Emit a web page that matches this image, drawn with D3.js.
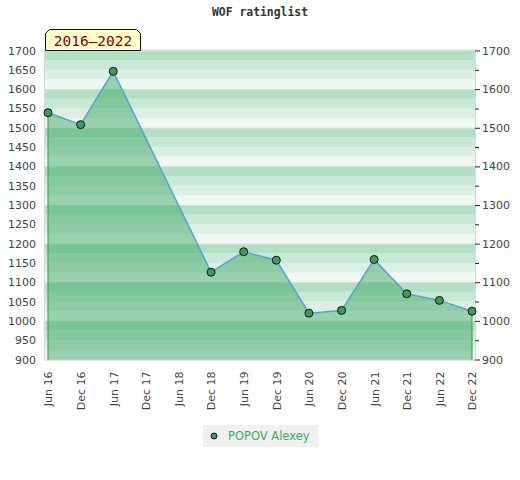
<!DOCTYPE html>
<html>
<head>
<meta charset="utf-8">
<script src="https://cdn.jsdelivr.net/npm/d3@7"></script>
<style>
  body { margin: 0; background: #fff; }
  svg { display: block; }
</style>
</head>
<body>
<script>
// half-year categories and ratings (null = no list that period)
const periods = ["Jun 16", "Dec 16", "Jun 17", "Dec 17", "Jun 18", "Dec 18", "Jun 19",
                 "Dec 19", "Jun 20", "Dec 20", "Jun 21", "Dec 21", "Jun 22", "Dec 22"];
const ratings = [1539, 1508, 1646, null, null, 1126, 1179, 1157, 1020, 1027, 1159, 1070, 1053, 1025];
const leftTicks = [900, 950, 1000, 1050, 1100, 1150, 1200, 1250, 1300, 1350, 1400, 1450, 1500, 1550, 1600, 1650, 1700];
const rightTicks = [900, 1000, 1100, 1200, 1300, 1400, 1500, 1600, 1700];
const bandColors = ["#b3dfc4", "#c9e8d5", "#dcefe3", "#eff8f2"];
const playerName = "POPOV Alexey";
const periodLabel = "2016\u20132022";

const W = 520, H = 480;
const plotLeft = 45, plotRight = 475, plotTop = 50.5, plotBottom = 359.5;

const svg = d3.select("body").append("svg")
    .attr("width", W)
    .attr("height", H);

const x = d3.scalePoint()
    .domain(periods)
    .range([plotLeft + 3, plotRight - 3]);
const y = d3.scaleLinear()
    .domain([900, 1700])
    .range([plotBottom, plotTop]);

// striped background, four bands per hundred
const bands = d3.range(900, 1700, 25);
svg.append("g").selectAll("rect")
    .data(bands)
    .enter()
    .append("rect")
    .attr("x", plotLeft)
    .attr("width", plotRight - plotLeft)
    .attr("y", d => y(d + 25))
    .attr("height", d => y(d) - y(d + 25))
    .attr("fill", d => bandColors[Math.round((1700 - d - 25) / 25) % 4]);

svg.append("g").selectAll("line")
    .data(rightTicks)
    .enter()
    .append("line")
    .attr("x1", plotLeft).attr("x2", plotRight)
    .attr("y1", d => y(d) + 0.5).attr("y2", d => y(d) + 0.5)
    .attr("stroke", "#d6dcd8");

// frame
svg.append("rect")
    .attr("x", plotLeft - 0.5).attr("y", plotTop - 0.5)
    .attr("width", plotRight - plotLeft + 1).attr("height", plotBottom - plotTop + 1)
    .attr("fill", "none")
    .attr("stroke", "#d8d8d8");

const pts = periods.map((p, i) => ({ p: p, v: ratings[i] })).filter(d => d.v !== null);

const area = d3.area()
    .x(d => x(d.p))
    .y0(plotBottom)
    .y1(d => y(d.v));
svg.append("path")
    .datum(pts)
    .attr("d", area)
    .attr("fill", "#37a660")
    .attr("fill-opacity", 0.47);

// edge lines at first and last point
const ends = [pts[0], pts[pts.length - 1]];
svg.append("g").selectAll("line")
    .data(ends)
    .enter()
    .append("line")
    .attr("x1", d => x(d.p)).attr("x2", d => x(d.p))
    .attr("y1", d => y(d.v)).attr("y2", plotBottom)
    .attr("stroke", "#3daa5a")
    .attr("stroke-width", 1.2);

const line = d3.line()
    .x(d => x(d.p))
    .y(d => y(d.v));
svg.append("path")
    .datum(pts)
    .attr("d", line)
    .attr("fill", "none")
    .attr("stroke", "#5b9fd6")
    .attr("stroke-width", 1.5);

svg.append("g").selectAll("circle")
    .data(pts)
    .enter()
    .append("circle")
    .attr("cx", d => x(d.p))
    .attr("cy", d => y(d.v))
    .attr("r", 4)
    .attr("fill", "#3a9d5d")
    .attr("stroke", "#111")
    .attr("stroke-width", 1);

// axes
const font = "'DejaVu Sans', sans-serif";
const fmt = d3.format("d");

const leftAxis = svg.append("g")
    .attr("transform", `translate(${plotLeft - 9},0)`)
    .call(d3.axisLeft(y).tickValues(leftTicks).tickFormat(fmt).tickSize(0).tickPadding(0));
leftAxis.select(".domain").remove();

const rightAxis = svg.append("g")
    .attr("transform", `translate(${plotRight},0)`)
    .call(d3.axisRight(y).tickValues(rightTicks).tickFormat(fmt).tickSize(5).tickPadding(2));
rightAxis.select(".domain").remove();

svg.append("g")
    .attr("transform", `translate(${plotRight},0)`)
    .call(d3.axisRight(y).tickValues(rightTicks.slice(0, -1).map(d => d + 50)).tickSize(4).tickFormat(""))
    .select(".domain").remove();

const bottomAxis = svg.append("g")
    .attr("transform", `translate(0,${plotBottom + 12})`)
    .call(d3.axisBottom(x).tickSize(0).tickPadding(0));
bottomAxis.select(".domain").remove();
bottomAxis.selectAll("text")
    .attr("transform", "rotate(-90)")
    .attr("text-anchor", "end")
    .attr("x", 0)
    .attr("y", 0)
    .attr("dy", "0.35em");

svg.selectAll(".tick text")
    .attr("font-family", font)
    .attr("font-size", 11)
    .attr("fill", "#444");
svg.selectAll(".tick line")
    .attr("stroke", "#222");

// title
svg.append("text")
    .attr("x", 260)
    .attr("y", 16)
    .attr("text-anchor", "middle")
    .attr("font-family", "'DejaVu Sans Mono', monospace")
    .attr("font-weight", "bold")
    .attr("font-size", 11.4)
    .attr("fill", "#333")
    .text("WOF ratinglist");

// period tag
const tx0 = 45.5, tx1 = 140.5, ty0 = 29.5, ty1 = 50.5, c = 4;
svg.append("path")
    .attr("d", `M${tx0},${ty1}L${tx0},${ty0 + c}L${tx0 + c},${ty0}L${tx1 - c},${ty0}L${tx1},${ty0 + c}L${tx1},${ty1}Z`)
    .attr("fill", "#ffffcc")
    .attr("stroke", "#111");
svg.append("text")
    .attr("x", (tx0 + tx1) / 2)
    .attr("y", 46)
    .attr("text-anchor", "middle")
    .attr("font-family", "'DejaVu Sans Mono', monospace")
    .attr("font-size", 14.5)
    .attr("fill", "#8b0000")
    .text(periodLabel);

// legend
const lg = svg.append("g");
lg.append("rect")
    .attr("x", 203).attr("y", 425)
    .attr("width", 115).attr("height", 22)
    .attr("fill", "#f0f0f0");
lg.append("circle")
    .attr("cx", 214).attr("cy", 436)
    .attr("r", 3)
    .attr("fill", "#3a9d5d")
    .attr("stroke", "#111");
lg.append("text")
    .attr("x", 228).attr("y", 440)
    .attr("font-family", font)
    .attr("font-size", 11.5)
    .attr("fill", "#3daa5a")
    .text(playerName);
</script>
</body>
</html>
